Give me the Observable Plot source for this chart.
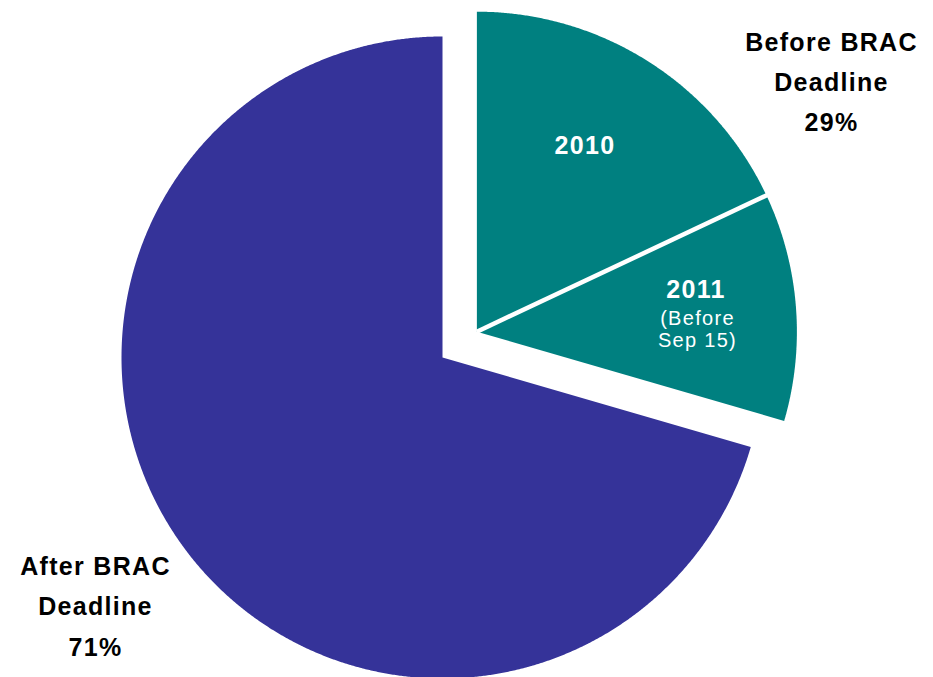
<!DOCTYPE html>
<html><head><meta charset="utf-8">
<script src="https://cdn.jsdelivr.net/npm/d3@7"></script>
<script src="https://cdn.jsdelivr.net/npm/@observablehq/plot@0.6"></script>
<style>
html,body{margin:0;padding:0;background:#fff;}
#chart svg text{letter-spacing:1.3px;}
</style></head><body><div id="chart"></div>
<script>
// ---- data ----
const categories = ["2010", "2011 (Before Sep 15)", "After BRAC Deadline"];
const values = [18, 11.5, 70.5];
const groups = ["before", "before", "after"];
const groupLabels = ["Before BRAC\nDeadline\n29%", "After BRAC\nDeadline\n71%"];
const sliceTitles = ["2010", "2011"];
const sliceNotes = ["(Before\nSep 15)"];
const colors = {before: "#008080", after: "#353399"};

// ---- layout ----
const W = 933, H = 677;
const center = [442, 357], R = 321, explode = 43;
const arcs = d3.pie().sort(null).value(d => d)(values);
const beforeArcs = arcs.filter((a, i) => groups[i] === "before");
const bStart = d3.min(beforeArcs, a => a.startAngle), bEnd = d3.max(beforeArcs, a => a.endAngle);
const bMid = (bStart + bEnd) / 2;
const offsets = {before: [explode * Math.sin(bMid), -explode * Math.cos(bMid)], after: [0, 0]};
const pt = (c, r, a) => [c[0] + r * Math.sin(a), c[1] - r * Math.cos(a)];
const centerOf = g => [center[0] + offsets[g][0], center[1] + offsets[g][1]];

const polys = [];
arcs.forEach((a, i) => {
  const g = groups[i], c = centerOf(g);
  const r = g === "before" ? R - 1 : R;
  polys.push({slice: categories[i], group: g, x: c[0], y: c[1]});
  const n = Math.ceil((a.endAngle - a.startAngle) / (Math.PI / 720));
  for (let k = 0; k <= n; k++) {
    const [x, y] = pt(c, r, a.startAngle + (a.endAngle - a.startAngle) * k / n);
    polys.push({slice: categories[i], group: g, x, y});
  }
});
// separator between 2010 and 2011
const bc = centerOf("before");
const sepEnd = pt(bc, R + 3, arcs[0].endAngle);
const seps = [{x1: bc[0], y1: bc[1], x2: sepEnd[0], y2: sepEnd[1]}];

const font = "'Liberation Sans', Arial, Helvetica, sans-serif";
const chart = Plot.plot({
  width: W, height: H, margin: 0,
  x: {domain: [0, W], range: [0, W], axis: null},
  y: {domain: [0, H], range: [0, H], axis: null},
  style: {fontFamily: font, background: "#fff"},
  marks: [
    Plot.line(polys.filter(d => d.group === "after"), {x: "x", y: "y", z: "slice", curve: "linear-closed", fill: colors.after, stroke: "none"}),
    Plot.line(polys.filter(d => d.group === "before"), {x: "x", y: "y", z: "slice", curve: "linear-closed", fill: colors.before, stroke: "none"}),
    Plot.link(seps, {x1: "x1", y1: "y1", x2: "x2", y2: "y2", stroke: "#fff", strokeWidth: 4.5}),
    Plot.text([groupLabels[0]], {x: () => 831, y: () => 130, text: d => d, lineAnchor: "bottom", lineHeight: 1.6, fontSize: 25, fontWeight: "bold", fill: "#000"}),
    Plot.text([groupLabels[1]], {x: () => 95, y: () => 655, text: d => d, lineAnchor: "bottom", lineHeight: 1.62, fontSize: 25, fontWeight: "bold", fill: "#000"}),
    Plot.text([sliceTitles[0]], {x: () => 584.5, y: () => 153, text: d => d, lineAnchor: "bottom", fontSize: 25, fontWeight: "bold", fill: "#fff"}),
    Plot.text([sliceTitles[1]], {x: () => 695.5, y: () => 297, text: d => d, lineAnchor: "bottom", fontSize: 25, fontWeight: "bold", fill: "#fff"}),
    Plot.text([sliceNotes[0]], {x: () => 697, y: () => 346, text: d => d, lineAnchor: "bottom", lineHeight: 1.1, fontSize: 20, fill: "#fff", style: "letter-spacing:0.4px"})
  ]
});
document.getElementById("chart").appendChild(chart);
</script>
</body></html>
